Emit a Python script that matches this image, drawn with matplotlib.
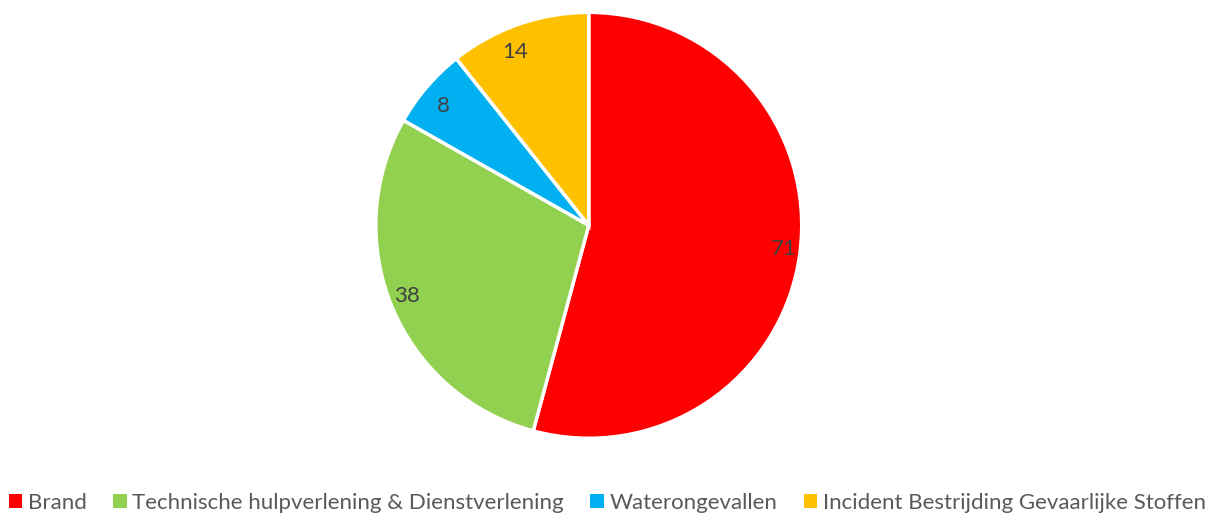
import matplotlib
matplotlib.use("Agg")
import matplotlib.pyplot as plt
from matplotlib.patches import Patch

categories = ["Brand", "Technische hulpverlening & Dienstverlening",
              "Waterongevallen", "Incident Bestrijding Gevaarlijke Stoffen"]
values = [71, 38, 8, 14]
colors = ["#FF0000", "#92D050", "#00B0F0", "#FFC000"]

plt.rcParams['font.family'] = ['Lato', 'DejaVu Sans']

fig = plt.figure(figsize=(12.22, 5.15), dpi=100)
ax = fig.add_axes([0.3075, 0.149, 0.3486, 0.827])
wedges, texts = ax.pie(values, colors=colors, startangle=90, counterclock=False,
                       labels=[str(v) for v in values], labeldistance=0.86,
                       wedgeprops=dict(edgecolor="white", linewidth=2.5),
                       textprops=dict(color="#404040", fontsize=16))
ax.set_aspect("equal")
ax.set_xlim(-1, 1)
ax.set_ylim(-1, 1)

handles = [Patch(facecolor=c, edgecolor="none") for c in colors]
fig.legend(handles, categories, loc="lower center", bbox_to_anchor=(0.497, -0.035),
           ncol=4, frameon=False, fontsize=16, labelcolor="#595959",
           handlelength=0.6, handleheight=0.6, handletextpad=0.25, columnspacing=1.2)

fig.savefig("out.png", dpi=100)
